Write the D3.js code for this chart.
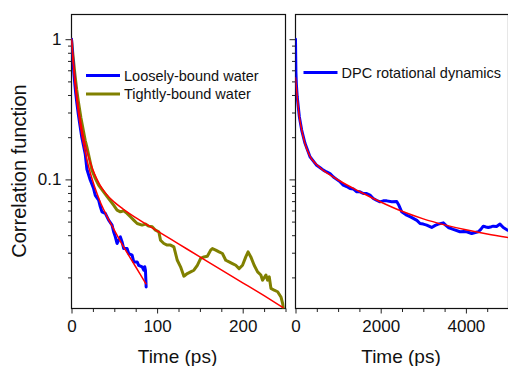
<!DOCTYPE html>
<html><head><meta charset="utf-8">
<script src="https://cdn.jsdelivr.net/npm/d3@7"></script>
<style>
html,body{margin:0;padding:0;background:#fff;}
svg{display:block;font-family:"Liberation Sans",Arial,sans-serif;}
</style></head>
<body>
<svg id="c" width="508" height="366"></svg>
<script>
// ---------- data ----------
const yMajorTicks = [1, 0.1];
const yMinorTicks = [0.9,0.8,0.7,0.6,0.5,0.4,0.3,0.2,0.09,0.08,0.07,0.06,0.05,0.04,0.03,0.02];
const leftXMajor = [0, 100, 200];
const leftXMinor = [25, 50, 75, 125, 150, 175, 225, 250];
const rightXMajor = [0, 2000, 4000];
const rightXMinor = [500, 1000, 1500, 2500, 3000, 3500, 4500, 5000];
const yTitle = "Correlation function";
const xTitle = "Time (ps)";
const legendLeft = ["Loosely-bound water", "Tightly-bound water"];
const legendRight = ["DPC rotational dynamics"];

// Loosely-bound water (blue)
const looseT = [0,1,2,3,4,5,6,8,10,12,14,16,18,21.9,25.8,27.8,31.7,33.6,35.6,39.5,43.4,47.4,49.2,51.2,53.2,55.1,57.1,59.1,61,64.9,66.8,70.8,72.7,76.7,78.5,82.5,84.4,85.6,86.4,87.2];
const looseV = [1,0.8,0.66,0.55,0.47,0.41,0.36,0.29,0.24,0.2,0.175,0.152,0.118,0.099,0.086,0.077,0.071,0.064,0.0587,0.0572,0.0512,0.0472,0.0423,0.0389,0.0349,0.0368,0.0389,0.0358,0.0321,0.0321,0.0296,0.0288,0.0258,0.0258,0.0244,0.0238,0.0225,0.0238,0.0225,0.0171];
// fit (red) for loosely-bound
const looseFitT = [0,2,4,6,8,11,14,18,22,27,33,40,50,60,70,80,87];
const looseFitV = [1,0.671,0.487,0.373,0.3,0.227,0.18,0.138,0.111,0.0885,0.0705,0.0568,0.0435,0.0337,0.0267,0.0212,0.018];

// Tightly-bound water (olive)
const tightT = [0,2,4,6,8,11,14,16,18,20,23.9,27.8,31.7,37.5,43.4,49.2,53.2,57.1,61,64.9,68.8,72.7,76.7,82.5,86.4,90.3,94.3,98.1,102,104,107.9,111.8,115.7,119.6,123.6,127.4,131.3,135.3,139.2,143,147,150.9,154.7,158.7,162.6,164.6,168.5,172.4,176.3,180.2,184.1,188,191.9,195.8,199.8,203.6,206.3,209.5,213.4,217.4,221.2,223.2,227.1,229.1,231,233,236.8,240.8,244.7,246.7,247.4];
const tightV = [1,0.74,0.56,0.44,0.36,0.275,0.22,0.19,0.17,0.15,0.1165,0.1017,0.091,0.0815,0.0731,0.0655,0.0604,0.0587,0.0597,0.0572,0.0541,0.0512,0.0485,0.0472,0.048,0.0464,0.0459,0.0434,0.0423,0.0368,0.0349,0.034,0.034,0.033,0.0265,0.0238,0.0204,0.0213,0.0219,0.0225,0.0244,0.0273,0.028,0.0283,0.0313,0.0321,0.0313,0.0304,0.0296,0.0265,0.0258,0.0251,0.0244,0.0231,0.0244,0.028,0.0304,0.028,0.0244,0.0219,0.0208,0.0191,0.0208,0.0191,0.0202,0.0167,0.0162,0.0158,0.0145,0.013,0.0121];
// fit (red) for tightly-bound
const tightFitT = [0,2,4,6,8,11,14,18,22,27,33,40,50,60,75,100,125,150,175,200,225,247];
const tightFitV = [1,0.711,0.529,0.411,0.331,0.252,0.202,0.159,0.132,0.109,0.0919,0.0795,0.0688,0.0616,0.0534,0.043,0.0347,0.028,0.0226,0.0183,0.0148,0.0122];

// DPC rotational dynamics (blue, right panel)
const dpcT = [0,5,10,20,40,90,145,223,340,420,497,580,653,730,810,890,967,1050,1122,1200,1279,1357,1437,1514,1592,1671,1749,1826,1900,1984,2060,2141,2258,2376,2420,2493,2610,2700,2765,2850,2923,3000,3080,3197,3280,3352,3469,3530,3587,3704,3862,3950,4019,4136,4220,4291,4350,4408,4470,4526,4600,4643,4720,4800,4878,4981];
const dpcV = [1,0.75,0.58,0.48,0.39,0.28,0.225,0.181,0.145,0.135,0.126,0.121,0.1165,0.113,0.11,0.104,0.1,0.096,0.091,0.089,0.0862,0.0855,0.0815,0.0815,0.0793,0.0793,0.0772,0.0731,0.071,0.0692,0.0703,0.0703,0.0692,0.0695,0.066,0.0587,0.0556,0.054,0.0527,0.051,0.0485,0.048,0.0472,0.0454,0.047,0.048,0.049,0.047,0.0454,0.044,0.0423,0.0425,0.0423,0.0411,0.0418,0.0423,0.044,0.0464,0.0458,0.0454,0.046,0.0464,0.0462,0.048,0.0454,0.0434];
// fit (red) for DPC
const dpcFitT = [0,15,40,90,150,220,340,500,650,800,1000,1500,2000,2500,3000,3500,4000,4500,5000];
const dpcFitV = [0.53,0.47,0.39,0.28,0.222,0.181,0.146,0.127,0.116,0.108,0.099,0.082,0.069,0.0592,0.0523,0.0474,0.0437,0.0408,0.0385];

// ---------- drawing ----------
const svg = d3.select("#c");
const plotTop = 14.5, plotBottom = 308.5;
const y = d3.scaleLog().domain([0.012, 1.5]).range([plotBottom, plotTop]);
const xL = d3.scaleLinear().domain([0, 250]).range([71.5, 285.5]);
const xR = d3.scaleLinear().domain([0, 5000]).range([295.5, 508.5]);

const BLUE = "#0000ff", OLIVE = "#808000", RED = "#ff0000";

function zip(T, V){ return T.map((t,i)=>[t, V[i]]); }

function panel(id, x, xMaj, xMin, showYLabels){
  const g = svg.append("g");
  const x0 = x.range()[0], x1 = x.range()[1];
  g.append("clipPath").attr("id", id).append("rect")
    .attr("x", x0).attr("y", plotTop).attr("width", x1 - x0).attr("height", plotBottom - plotTop);
  const ya = d3.axisLeft(y).tickValues(yMajorTicks).tickSize(6).tickPadding(4)
    .tickFormat(d => showYLabels ? (d === 1 ? "1" : "0.1") : "");
  const yg = g.append("g").attr("transform", `translate(${x0},0)`).call(ya);
  const ym = g.append("g").attr("transform", `translate(${x0},0)`)
    .call(d3.axisLeft(y).tickValues(yMinorTicks).tickSize(3.5).tickFormat(""));
  const xa = d3.axisBottom(x).tickValues(xMaj).tickSize(5).tickPadding(6).tickFormat(d3.format("d"));
  const xg = g.append("g").attr("transform", `translate(0,${plotBottom})`).call(xa);
  const xm = g.append("g").attr("transform", `translate(0,${plotBottom})`)
    .call(d3.axisBottom(x).tickValues(xMin).tickSize(3.5).tickFormat(""));
  [yg, ym, xg, xm].forEach(a => {
    a.select(".domain").remove();
    a.selectAll("line").attr("stroke", "#222").attr("stroke-width", 1);
    a.selectAll("text").attr("fill", "#111").style("font-size", "17px")
      .style("font-family", "'Liberation Sans', Arial, sans-serif");
  });
  g.append("rect").attr("x", x0).attr("y", plotTop).attr("width", x1 - x0).attr("height", plotBottom - plotTop)
    .attr("fill", "none").attr("stroke", "#111").attr("stroke-width", 1.2);
  g.append("text").attr("x", (x0 + x1) / 2 - 1).attr("y", 363)
    .attr("text-anchor", "middle").style("font-size", "19px").attr("fill", "#111").text(xTitle);
  return g.append("g").attr("clip-path", `url(#${id})`);
}

const pL = panel("clipL", xL, leftXMajor, leftXMinor, true);
const pR = panel("clipR", xR, rightXMajor, rightXMinor, false);

const lineL = d3.line().x(d => xL(d[0])).y(d => y(d[1]));
const fitL = d3.line().x(d => xL(d[0])).y(d => y(d[1])).curve(d3.curveMonotoneX);
const lineR = d3.line().x(d => xR(d[0])).y(d => y(d[1]));
const fitR = d3.line().x(d => xR(d[0])).y(d => y(d[1])).curve(d3.curveMonotoneX);

function path(g, gen, data, color, w){
  g.append("path").datum(data).attr("d", gen).attr("fill", "none")
    .attr("stroke", color).attr("stroke-width", w)
    .attr("stroke-linejoin", "round").attr("stroke-linecap", "round");
}
path(pL, lineL, zip(tightT, tightV), OLIVE, 3);
path(pL, lineL, zip(looseT, looseV), BLUE, 3);
path(pL, fitL, zip(tightFitT, tightFitV), RED, 1.5);
path(pL, fitL, zip(looseFitT, looseFitV), RED, 1.5);
path(pR, lineR, zip(dpcT, dpcV), BLUE, 3);
path(pR, fitR, zip(dpcFitT, dpcFitV), RED, 1.5);

svg.append("text").attr("transform", "translate(26,171) rotate(-90)")
  .attr("text-anchor", "middle").style("font-size", "20px").attr("fill", "#111").text(yTitle);

function legend(items, colors, lx, ly, dy){
  items.forEach((t, i) => {
    const yy = ly + i * dy;
    svg.append("line").attr("x1", lx).attr("x2", lx + 34).attr("y1", yy).attr("y2", yy)
      .attr("stroke", colors[i]).attr("stroke-width", 3);
    svg.append("text").attr("x", lx + 38).attr("y", yy).attr("dy", "0.35em")
      .style("font-size", "14.5px").attr("fill", "#111").text(t);
  });
}
legend(legendLeft, [BLUE, OLIVE], 86, 75.5, 18.5);
legend(legendRight, [BLUE], 303.5, 72.5, 18);
</script>
</body></html>
